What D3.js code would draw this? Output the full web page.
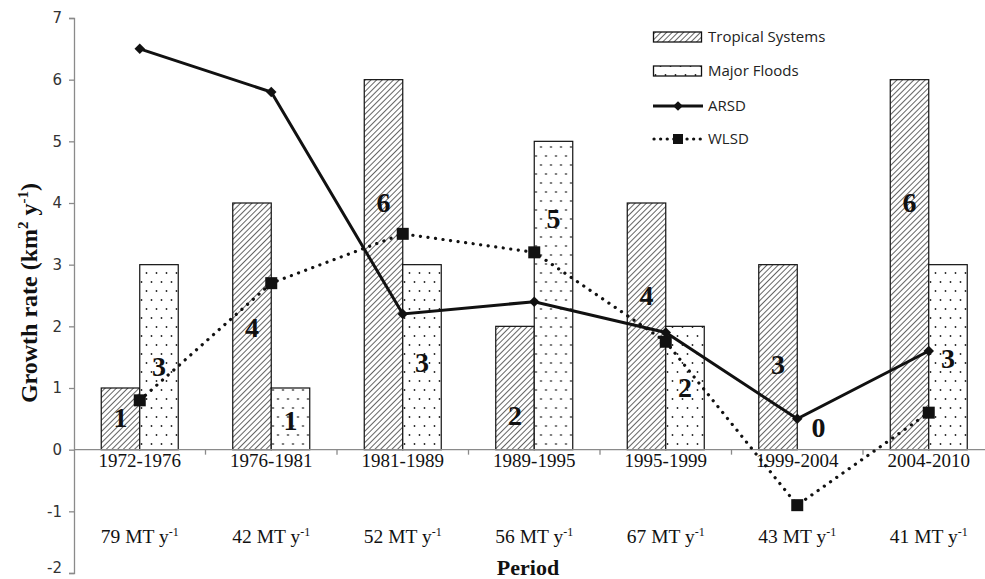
<!DOCTYPE html>
<html>
<head>
<meta charset="utf-8">
<script src="https://cdn.jsdelivr.net/npm/d3@7"></script>
<style>
  html, body { margin: 0; padding: 0; background: #fff; }
  svg { display: block; }
</style>
</head>
<body>
<svg id="chart" width="985" height="579"></svg>
<script>
// Periods and per-period sediment load labels
const periods = ["1972-1976", "1976-1981", "1981-1989", "1989-1995", "1995-1999", "1999-2004", "2004-2010"];
const loads = ["79", "42", "52", "56", "67", "43", "41"];

// Event counts (bars)
const tropical = [1, 4, 6, 2, 4, 3, 6];
const floods = [3, 1, 3, 5, 2, 0, 3];

// Growth rates (lines)
const arsd = [6.5, 5.8, 2.2, 2.4, 1.9, 0.5, 1.6];
const wlsd = [0.8, 2.7, 3.5, 3.2, 1.75, -0.9, 0.6];

// Height (axis units) at which each count label's baseline sits
const tropicalLabelAt = [0.36, 1.83, 3.86, 0.4, 2.35, 1.22, 3.86];
const floodLabelAt = [1.2, 0.32, 1.26, 3.6, 0.86, 0.21, 1.33];

const yTicks = [-2, -1, 0, 1, 2, 3, 4, 5, 6, 7];

const svg = d3.select("#chart");
const defs = svg.append("defs");

// Diagonal hatch for tropical systems
const hatch = defs.append("pattern")
  .attr("id", "hatch").attr("patternUnits", "userSpaceOnUse")
  .attr("width", 4).attr("height", 4)
  .attr("patternTransform", "rotate(45)");
hatch.append("rect").attr("width", 4).attr("height", 4).attr("fill", "#fff");
hatch.append("line").attr("x1", 0).attr("y1", 0).attr("x2", 0).attr("y2", 4)
  .attr("stroke", "#111").attr("stroke-width", 1.3);

// Sparse dots for major floods
const dots = defs.append("pattern")
  .attr("id", "dots").attr("patternUnits", "userSpaceOnUse")
  .attr("width", 10).attr("height", 18);
dots.append("rect").attr("width", 10).attr("height", 18).attr("fill", "#fff");
dots.append("circle").attr("cx", 2.5).attr("cy", 3).attr("r", 0.9).attr("fill", "#222");
dots.append("circle").attr("cx", 7.5).attr("cy", 12).attr("r", 0.9).attr("fill", "#222");

const y = d3.scaleLinear().domain([-2, 7]).range([573, 18]);
const x = d3.scaleBand().domain(periods).range([74, 994.5]).paddingInner(0).paddingOuter(0);
const sub = d3.scaleBand().domain(["t", "f"]).range([0, x.bandwidth()]).paddingInner(0).paddingOuter(0.708);

const axisColor = "#8a8a8a";

// Y axis
const yAxis = svg.append("g").attr("transform", "translate(74,0)")
  .call(d3.axisLeft(y).tickValues(yTicks).tickSize(5).tickPadding(7).tickFormat(d => String(d)));
yAxis.select(".domain").attr("stroke", axisColor).attr("stroke-width", 1.3);
yAxis.selectAll(".tick line").attr("stroke", axisColor).attr("stroke-width", 1.3);
yAxis.selectAll(".tick text")
  .attr("font-family", "DejaVu Sans, sans-serif").attr("font-size", 15).attr("fill", "#333")
  .attr("dy", d => d === -2 ? "-0.05em" : "0.32em");

// Bars
const barData = periods.map((p, i) => ({ p, t: tropical[i], f: floods[i] }));
const groups = svg.append("g").selectAll("g").data(barData).join("g")
  .attr("transform", d => `translate(${x(d.p)},0)`);
groups.append("rect")
  .attr("x", sub("t")).attr("width", sub.bandwidth())
  .attr("y", d => y(d.t)).attr("height", d => y(0) - y(d.t))
  .attr("fill", "url(#hatch)").attr("stroke", "#111").attr("stroke-width", 1.2);
groups.filter(d => d.f > 0).append("rect")
  .attr("x", sub("f")).attr("width", sub.bandwidth())
  .attr("y", d => y(d.f)).attr("height", d => y(0) - y(d.f))
  .attr("fill", "url(#dots)").attr("stroke", "#111").attr("stroke-width", 1.2);

// X axis at zero
const xAxisG = svg.append("g").attr("transform", `translate(0,${y(0)})`);
xAxisG.append("line").attr("x1", 74).attr("x2", 985).attr("y1", 0).attr("y2", 0)
  .attr("stroke", axisColor).attr("stroke-width", 1.3);
xAxisG.selectAll("line.tk").data(periods.slice(1)).join("line").attr("class", "tk")
  .attr("x1", d => x(d)).attr("x2", d => x(d)).attr("y1", 0).attr("y2", 5)
  .attr("stroke", axisColor).attr("stroke-width", 1.3);

// Category labels
svg.append("g").selectAll("text").data(periods).join("text")
  .attr("x", d => x(d) + x.bandwidth() / 2).attr("y", 467)
  .attr("text-anchor", "middle")
  .attr("font-family", "Liberation Serif, Times New Roman, serif").attr("font-size", 19).attr("fill", "#111")
  .text(d => d);

// Sediment load labels
const loadText = svg.append("g").selectAll("text").data(loads).join("text")
  .attr("x", (d, i) => x(periods[i]) + x.bandwidth() / 2).attr("y", 543)
  .attr("text-anchor", "middle")
  .attr("font-family", "Liberation Serif, Times New Roman, serif").attr("font-size", 19.5).attr("fill", "#111");
loadText.append("tspan").text(d => d + " MT y");
loadText.append("tspan").attr("dy", -7).attr("font-size", 12).text("-1");

// Lines
const cx = i => x(periods[i]) + x.bandwidth() / 2;
const line = d3.line().x((d, i) => cx(i)).y(d => y(d));

svg.append("path").datum(wlsd).attr("d", line)
  .attr("fill", "none").attr("stroke", "#111").attr("stroke-width", 3.2)
  .attr("stroke-linecap", "round").attr("stroke-dasharray", "0.1 7.5");
svg.append("path").datum(arsd).attr("d", line)
  .attr("fill", "none").attr("stroke", "#111").attr("stroke-width", 3);

svg.append("g").selectAll("path").data(arsd).join("path")
  .attr("d", d3.symbol(d3.symbolDiamond2, 70))
  .attr("transform", (d, i) => `translate(${cx(i)},${y(d)})`)
  .attr("fill", "#111");
svg.append("g").selectAll("rect").data(wlsd).join("rect")
  .attr("x", (d, i) => cx(i) - 6).attr("y", d => y(d) - 6)
  .attr("width", 12).attr("height", 12).attr("fill", "#111");

// Count labels
const labelFont = "Liberation Serif, Times New Roman, serif";
svg.append("g").selectAll("text").data(tropical).join("text")
  .attr("x", (d, i) => x(periods[i]) + sub("t") + sub.bandwidth() / 2)
  .attr("y", (d, i) => y(tropicalLabelAt[i]))
  .attr("text-anchor", "middle").attr("font-family", labelFont)
  .attr("font-weight", "bold").attr("font-size", 28).attr("fill", "#111")
  .text(d => d);
svg.append("g").selectAll("text").data(floods).join("text")
  .attr("x", (d, i) => x(periods[i]) + sub("f") + sub.bandwidth() / 2 + (d === 0 ? 2 : 0))
  .attr("y", (d, i) => y(floodLabelAt[i]))
  .attr("text-anchor", "middle").attr("font-family", labelFont)
  .attr("font-weight", "bold").attr("font-size", 28).attr("fill", "#111")
  .text(d => d);

// Axis titles
const yTitle = svg.append("text")
  .attr("transform", "translate(37,293) rotate(-90)")
  .attr("text-anchor", "middle").attr("font-family", labelFont)
  .attr("font-weight", "bold").attr("font-size", 24).attr("fill", "#111");
yTitle.append("tspan").text("Growth rate (km");
yTitle.append("tspan").attr("dy", -9).attr("font-size", 15).text("2");
yTitle.append("tspan").attr("dy", 9).text(" y");
yTitle.append("tspan").attr("dy", -9).attr("font-size", 15).text("-1");
yTitle.append("tspan").attr("dy", 9).text(")");

svg.append("text").attr("x", 528).attr("y", 575)
  .attr("text-anchor", "middle").attr("font-family", labelFont)
  .attr("font-weight", "bold").attr("font-size", 22).attr("fill", "#111")
  .text("Period");

// Legend
const legend = svg.append("g").attr("transform", "translate(653,0)");
const legendFont = "Open Sans, sans-serif";
const legendRows = [
  { name: "Tropical Systems", kind: "hatch", cy: 37 },
  { name: "Major Floods", kind: "dots", cy: 71 },
  { name: "ARSD", kind: "solid", cy: 106 },
  { name: "WLSD", kind: "dotted", cy: 139 }
];
legendRows.forEach(r => {
  if (r.kind === "hatch" || r.kind === "dots") {
    legend.append("rect").attr("x", 0.5).attr("y", r.cy - 5).attr("width", 48).attr("height", 10)
      .attr("fill", r.kind === "hatch" ? "url(#hatch)" : "url(#dots)")
      .attr("stroke", "#111").attr("stroke-width", 1.3);
  } else if (r.kind === "solid") {
    legend.append("line").attr("x1", 0).attr("x2", 50).attr("y1", r.cy).attr("y2", r.cy)
      .attr("stroke", "#111").attr("stroke-width", 3);
    legend.append("path").attr("d", d3.symbol(d3.symbolDiamond2, 60))
      .attr("transform", `translate(25,${r.cy})`).attr("fill", "#111");
  } else {
    legend.append("line").attr("x1", 1).attr("x2", 49).attr("y1", r.cy).attr("y2", r.cy)
      .attr("stroke", "#111").attr("stroke-width", 3.2)
      .attr("stroke-linecap", "round").attr("stroke-dasharray", "0.1 6.5");
    legend.append("rect").attr("x", 20).attr("y", r.cy - 5).attr("width", 10).attr("height", 10).attr("fill", "#111");
  }
  legend.append("text").attr("x", 55).attr("y", r.cy + 5)
    .attr("font-family", legendFont).attr("font-size", 15).attr("fill", "#222")
    .text(r.name);
});
</script>
</body>
</html>
